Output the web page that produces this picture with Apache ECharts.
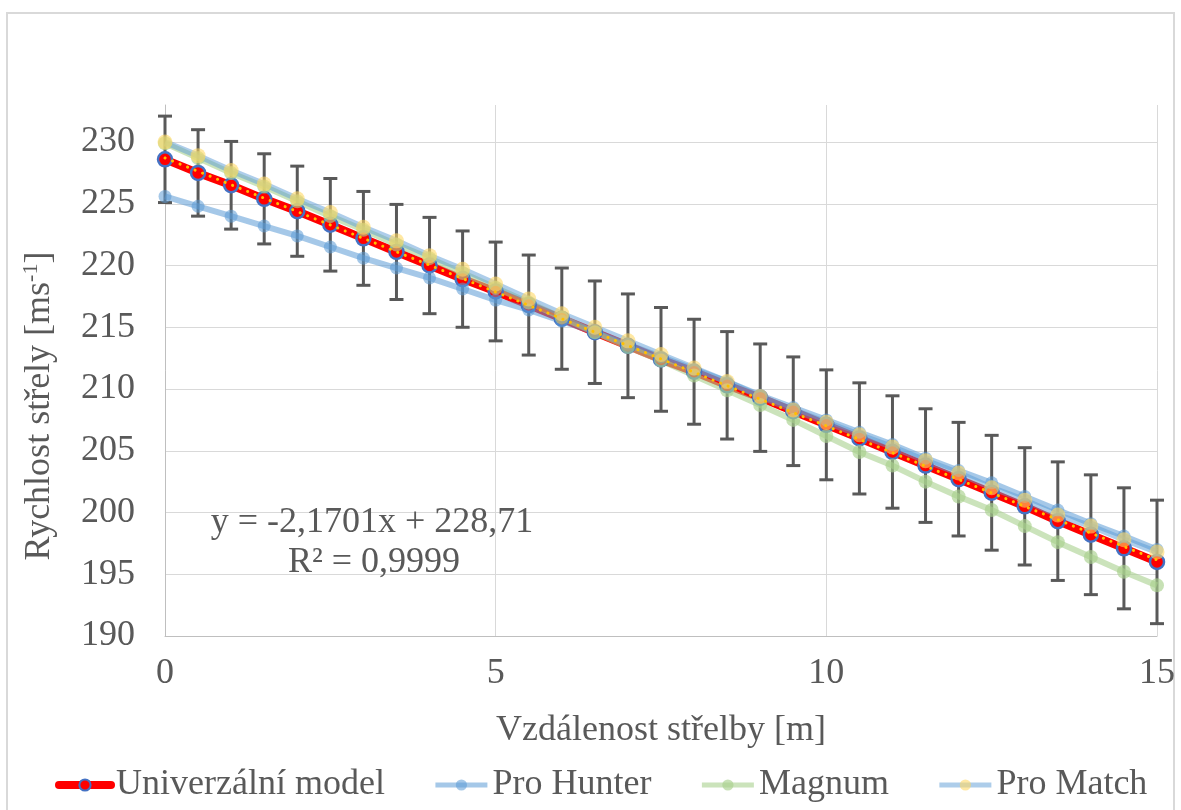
<!DOCTYPE html>
<html>
<head>
<meta charset="utf-8">
<script src="https://cdn.jsdelivr.net/npm/echarts@6/dist/echarts.min.js"></script>
<style>
html,body{margin:0;padding:0;background:#fff;}
#c{width:1181px;height:810px;}
</style>
</head>
<body>
<div id="c"></div>
<script>
// Distance of shot [m]
const distances = [0,0.5,1,1.5,2,2.5,3,3.5,4,4.5,5,5.5,6,6.5,7,7.5,8,8.5,9,9.5,10,10.5,11,11.5,12,12.5,13,13.5,14,14.5,15];
// Series values (velocity, m/s)
const universalModel = [228.6,227.5,226.5,225.4,224.4,223.3,222.2,221.1,220.0,218.9,217.9,216.8,215.7,214.6,213.5,212.4,211.4,210.3,209.3,208.2,207.1,206.0,204.9,203.8,202.7,201.6,200.5,199.3,198.2,197.1,196.0];
const proHunter = [225.6,224.8,224.0,223.2,222.4,221.5,220.6,219.8,219.0,218.1,217.2,216.4,215.5,214.6,213.6,212.6,211.6,210.6,209.5,208.5,207.5,206.5,205.5,204.4,203.4,202.4,201.3,200.2,199.1,198.1,197.0];
const magnum = [229.9,228.7,227.5,226.4,225.2,224.0,222.9,221.7,220.6,219.4,218.2,217.0,215.8,214.6,213.4,212.3,211.1,209.9,208.7,207.5,206.2,204.9,203.8,202.5,201.3,200.2,198.9,197.6,196.4,195.2,194.1];
const proMatch = [230.0,228.9,227.7,226.6,225.4,224.3,223.1,222.0,220.8,219.7,218.5,217.3,216.1,215.0,213.9,212.8,211.7,210.6,209.4,208.3,207.3,206.3,205.3,204.2,203.2,202.0,201.0,199.8,198.9,197.8,196.8];
// Error bar half-lengths for the universal model
const errorHalf = [3.5,3.5,3.55,3.65,3.65,3.75,3.8,3.85,3.9,3.9,4.0,4.05,4.1,4.15,4.2,4.2,4.25,4.35,4.35,4.4,4.45,4.5,4.55,4.6,4.6,4.65,4.75,4.8,4.85,4.9,5.0];
// Linear trendline end points (from the displayed equation)
const trendX = [0, 15];
const trendY = [228.71, 196.16];
const seriesNames = ['Univerzální model','Pro Hunter','Magnum','Pro Match'];
const equationLines = ['y = -2,1701x + 228,71','R² = 0,9999'];

const FONT = 'Liberation Serif';
const TXT = '#595959';
const FS = 36;

const pairs = arr => distances.map((x, i) => [x, arr[i]]);

const chart = echarts.init(document.getElementById('c'), null, {renderer: 'canvas'});

const option = {
  animation: false,
  backgroundColor: '#ffffff',
  grid: {left: 165, right: 24, top: 105, bottom: 174},
  xAxis: {
    type: 'value', min: 0, max: 15, interval: 5,
    axisLine: {show: true, lineStyle: {color: '#bfbfbf', width: 1}},
    axisTick: {show: false},
    axisLabel: {color: TXT, fontFamily: FONT, fontSize: FS, margin: 20},
    splitLine: {show: true, lineStyle: {color: '#d9d9d9', width: 1}},
    name: 'Vzdálenost střelby [m]',
    nameLocation: 'middle', nameGap: 77,
    nameTextStyle: {color: TXT, fontFamily: FONT, fontSize: FS}
  },
  yAxis: {
    type: 'value', min: 190, max: 233, interval: 5,
    axisLine: {show: true, onZero: false, lineStyle: {color: '#bfbfbf', width: 1}},
    axisTick: {show: false},
    axisLabel: {color: TXT, fontFamily: FONT, fontSize: FS, margin: 30, showMaxLabel: false,
      formatter: v => (v % 5 === 0 ? String(v) : '')},
    splitLine: {show: true, showMaxLine: false, lineStyle: {color: '#d9d9d9', width: 1}}
  },
  legend: {
    data: [
      {name: seriesNames[0], lineStyle: {width: 8, color: '#ff0000', cap: 'round'}},
      {name: seriesNames[1], lineStyle: {width: 5, color: 'rgba(91,155,213,0.55)'}},
      {name: seriesNames[2], lineStyle: {width: 5, color: 'rgba(169,209,142,0.6)'}},
      {name: seriesNames[3], lineStyle: {width: 5, color: 'rgba(91,155,213,0.5)'}}
    ],
    left: 50, top: 762,
    itemWidth: 52, itemHeight: 14, itemGap: 48,
    textStyle: {color: TXT, fontFamily: FONT, fontSize: FS}
  },
  graphic: [
    {type: 'rect', z: -10, silent: true,
     shape: {x: 7, y: 13, width: 1167, height: 800},
     style: {fill: 'none', stroke: '#d9d9d9', lineWidth: 2}},
    {type: 'text', x: 372, y: 523, z: 100, silent: true,
     style: {text: equationLines[0], fill: TXT, font: FS + 'px "' + FONT + '"', align: 'center', verticalAlign: 'middle'}},
    {type: 'text', x: 374, y: 563, z: 100, silent: true,
     style: {text: equationLines[1], fill: TXT, font: FS + 'px "' + FONT + '"', align: 'center', verticalAlign: 'middle'}},
    {type: 'text', x: 40, y: 406, rotation: Math.PI / 2, silent: true,
     style: {
       text: '{a|Rychlost střely [ms}{s|-1}{a|]}',
       align: 'center', verticalAlign: 'middle',
       rich: {
         a: {fill: TXT, color: TXT, fontFamily: FONT, fontSize: FS, lineHeight: 40},
         s: {fill: TXT, color: TXT, fontFamily: FONT, fontSize: 22, lineHeight: 40, verticalAlign: 'top'}
       }
     }}
  ],
  series: [
    {
      name: 'errors', type: 'custom', silent: true, z: 1,
      data: distances.map((x, i) => [x, universalModel[i], errorHalf[i]]),
      encode: {x: 0, y: 1},
      renderItem: function (params, api) {
        const x = api.value(0), c = api.value(1), e = api.value(2);
        const t = api.coord([x, c + e]);
        const b = api.coord([x, c - e]);
        const w = 7;
        const st = {stroke: '#595959', lineWidth: 3};
        return {type: 'group', children: [
          {type: 'line', shape: {x1: t[0], y1: t[1], x2: b[0], y2: b[1]}, style: st},
          {type: 'line', shape: {x1: t[0] - w, y1: t[1], x2: t[0] + w, y2: t[1]}, style: st},
          {type: 'line', shape: {x1: b[0] - w, y1: b[1], x2: b[0] + w, y2: b[1]}, style: st}
        ]};
      }
    },
    {
      name: seriesNames[0], type: 'line', z: 2, data: pairs(universalModel),
      symbol: 'circle', symbolSize: 14, showAllSymbol: true,
      lineStyle: {color: '#ff0000', width: 8},
      itemStyle: {color: '#ff0000', borderColor: '#4472c4', borderWidth: 2.5}
    },
    {
      name: seriesNames[1], type: 'line', z: 2, data: pairs(proHunter),
      symbol: 'circle', symbolSize: 13, showAllSymbol: true,
      lineStyle: {color: 'rgba(91,155,213,0.55)', width: 6},
      itemStyle: {color: 'rgba(91,155,213,0.55)', borderWidth: 0}
    },
    {
      name: seriesNames[2], type: 'line', z: 2, data: pairs(magnum),
      symbol: 'circle', symbolSize: 14, showAllSymbol: true,
      lineStyle: {color: 'rgba(169,209,142,0.6)', width: 6},
      itemStyle: {color: 'rgba(169,209,142,0.65)', borderWidth: 0}
    },
    {
      name: seriesNames[3], type: 'line', z: 2, data: pairs(proMatch),
      symbol: 'circle', symbolSize: 15, showAllSymbol: true,
      lineStyle: {color: 'rgba(91,155,213,0.5)', width: 6},
      itemStyle: {color: 'rgba(255,217,102,0.6)', borderWidth: 0}
    },
    {
      name: 'trend', type: 'line', z: 3, silent: true,
      data: trendX.map((x, i) => [x, trendY[i]]),
      symbol: 'none',
      lineStyle: {color: '#ffc000', width: 3, type: [0.1, 8], cap: 'round'}
    }
  ]
};
chart.setOption(option);
</script>
</body>
</html>
